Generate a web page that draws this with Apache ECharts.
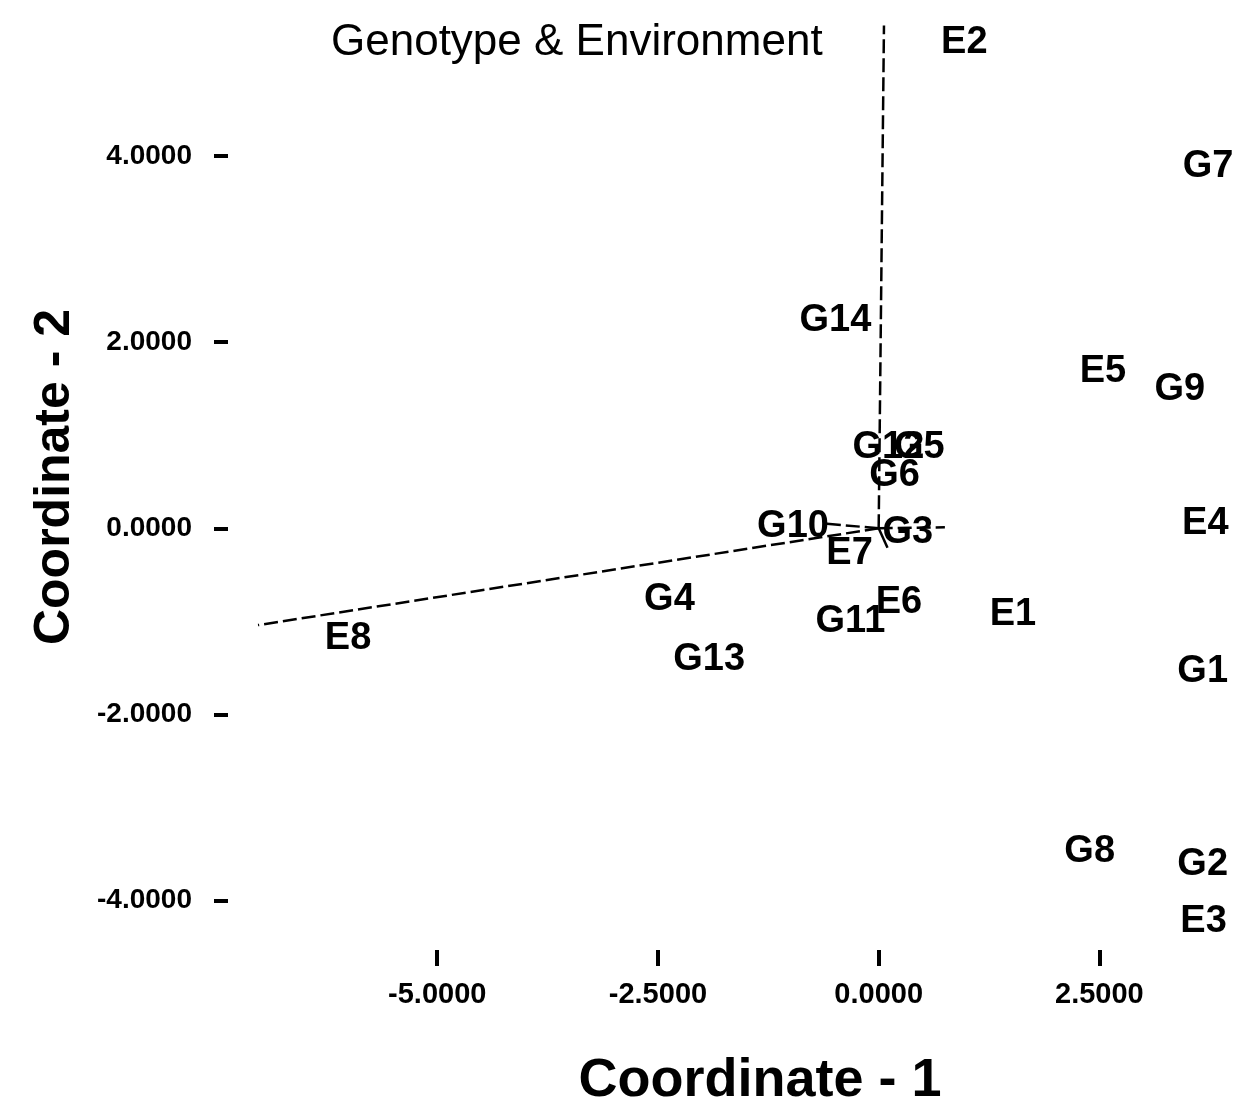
<!DOCTYPE html>
<html>
<head>
<meta charset="utf-8">
<script src="https://cdn.jsdelivr.net/npm/echarts@6/dist/echarts.min.js"></script>
<style>
  html, body { margin: 0; padding: 0; background: #fff; }
  #main { width: 1238px; height: 1103px; }
</style>
</head>
<body>
<div id="main"></div>
<script>
// genotype scores (coordinate 1, coordinate 2)
var genoNames = ['G1','G2','G3','G4','G5','G6','G7','G8','G9','G10','G11','G12','G13','G14'];
var genoX = [3.67, 3.67, 0.33, -2.37, 0.46, 0.18, 3.73, 2.39, 3.41, -0.97, -0.32, 0.11, -1.92, -0.49];
var genoY = [-1.50, -3.57, 0.00, -0.72, 0.91, 0.61, 3.93, -3.43, 1.53, 0.06, -0.96, 0.91, -1.37, 2.28];

// environment scores
var envNames = ['E1','E2','E3','E4','E5','E6','E7','E8'];
var envX = [1.52, 0.97, 3.68, 3.70, 2.54, 0.23, -0.33, -6.01];
var envY = [-0.88, 5.26, -4.18, 0.09, 1.73, -0.75, -0.23, -1.14];

// vectors drawn from the origin
var vecX = [0.06, -7.03, -0.60, 0.10, 0.75];
var vecY = [5.40, -1.04, 0.05, -0.21, 0.01];
var vecDashed = [true, true, true, false, true];

// axis ticks
var xTicks = [-5, -2.5, 0, 2.5];
var yTicks = [-4, -2, 0, 2, 4];

(function(){
    var myChart = echarts.init(document.getElementById('main'));
    var font = 'Liberation Sans, Arial, sans-serif';

    var genoData = genoNames.map(function(n, i){ return { name: n, value: [genoX[i], genoY[i]] }; });
    var envData = envNames.map(function(n, i){ return { name: n, value: [envX[i], envY[i]] }; });
    var vecData = vecX.map(function(x, i){
        return {
            coords: [[0, 0], [x, vecY[i]]],
            lineStyle: { type: vecDashed[i] ? [14, 5] : 'solid' }
        };
    });

    var labelStyle = {
        show: true,
        position: 'inside',
        formatter: '{b}',
        offset: [0, 4],
        color: '#000',
        fontSize: 38,
        fontWeight: 'bold',
        fontFamily: font
    };

    var option = {
        backgroundColor: '#fff',
        animation: false,
        title: {
            text: 'Genotype & Environment',
            left: 326,
            top: 16,
            textStyle: { color: '#000', fontSize: 44, fontWeight: 'normal', fontFamily: font }
        },
        grid: { left: 228, right: 0, top: 20, bottom: 153, containLabel: false, outerBoundsMode: 'none' },
        xAxis: {
            type: 'value',
            min: -7.37,
            max: 4.07,
            name: 'Coordinate - 1',
            nameLocation: 'middle',
            nameGap: 104,
            nameTextStyle: {
                color: '#000', fontSize: 54, fontWeight: 'bold', fontFamily: font,
                verticalAlign: 'top', padding: [0, 0, 0, 54]
            },
            axisLine: { show: false, onZero: false },
            splitLine: { show: false },
            axisTick: {
                show: true, inside: false, length: 16,
                customValues: xTicks,
                lineStyle: { color: '#000', width: 4 }
            },
            axisLabel: {
                customValues: xTicks,
                margin: 30,
                color: '#000', fontSize: 29, fontWeight: 'bold', fontFamily: font,
                formatter: function(v){ return v.toFixed(4); }
            }
        },
        yAxis: {
            type: 'value',
            min: -4.53,
            max: 5.46,
            name: 'Coordinate - 2',
            nameLocation: 'middle',
            nameGap: 148,
            nameRotate: 90,
            nameTextStyle: {
                color: '#000', fontSize: 50, fontWeight: 'bold', fontFamily: font,
                padding: [0, 0, 0, 16]
            },
            axisLine: { show: false, onZero: false },
            splitLine: { show: false },
            axisTick: {
                show: true, inside: false, length: 14,
                customValues: yTicks,
                lineStyle: { color: '#000', width: 4 }
            },
            axisLabel: {
                customValues: yTicks,
                margin: 36,
                color: '#000', fontSize: 28, fontWeight: 'bold', fontFamily: font,
                formatter: function(v){ return v.toFixed(4); }
            }
        },
        series: [
            {
                name: 'vectors',
                type: 'lines',
                coordinateSystem: 'cartesian2d',
                silent: true,
                lineStyle: { color: '#000', width: 2.5, opacity: 1 },
                data: vecData,
                z: 1
            },
            {
                name: 'Genotype',
                type: 'scatter',
                symbolSize: 0,
                itemStyle: { opacity: 1 },
                label: labelStyle,
                data: genoData,
                z: 3
            },
            {
                name: 'Environment',
                type: 'scatter',
                symbolSize: 0,
                itemStyle: { opacity: 1 },
                label: labelStyle,
                data: envData,
                z: 3
            }
        ]
    };
    myChart.setOption(option);
})();
</script>
</body>
</html>
